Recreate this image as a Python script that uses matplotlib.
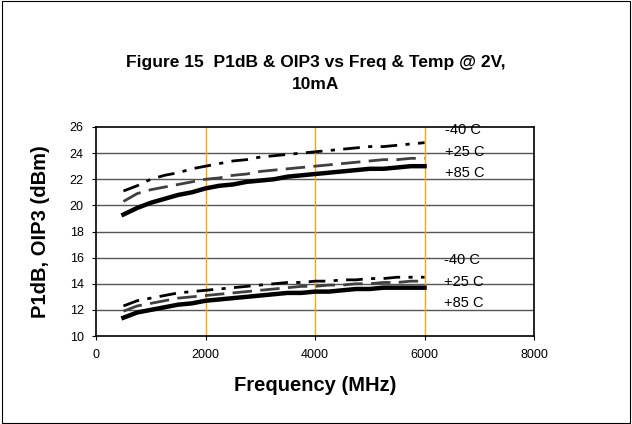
import matplotlib
matplotlib.use('Agg')
import matplotlib.pyplot as plt
from matplotlib.patches import Rectangle

plt.rcParams['font.family'] = ['Liberation Sans', 'DejaVu Sans']

freq = [500, 750, 1000, 1250, 1500, 1750, 2000, 2250, 2500, 2750, 3000, 3250,
        3500, 3750, 4000, 4250, 4500, 4750, 5000, 5250, 5500, 5750, 6000]

# OIP3 (upper group)
oip3_m40 = [21.1, 21.5, 22.0, 22.3, 22.5, 22.8, 23.0, 23.2, 23.4, 23.5, 23.7, 23.8,
            23.9, 24.0, 24.1, 24.2, 24.3, 24.4, 24.5, 24.5, 24.6, 24.7, 24.8]
oip3_p25 = [20.3, 20.9, 21.2, 21.4, 21.6, 21.8, 22.0, 22.1, 22.3, 22.4, 22.6, 22.7,
            22.8, 22.9, 23.0, 23.1, 23.2, 23.3, 23.4, 23.5, 23.5, 23.6, 23.6]
oip3_p85 = [19.3, 19.8, 20.2, 20.5, 20.8, 21.0, 21.3, 21.5, 21.6, 21.8, 21.9, 22.0,
            22.2, 22.3, 22.4, 22.5, 22.6, 22.7, 22.8, 22.8, 22.9, 23.0, 23.0]

# P1dB (lower group)
p1db_m40 = [12.3, 12.7, 12.9, 13.1, 13.3, 13.4, 13.5, 13.6, 13.7, 13.8, 13.9, 14.0,
            14.1, 14.1, 14.2, 14.2, 14.3, 14.3, 14.4, 14.4, 14.5, 14.5, 14.5]
p1db_p25 = [11.9, 12.3, 12.5, 12.7, 12.9, 13.0, 13.1, 13.2, 13.3, 13.4, 13.5, 13.6,
            13.7, 13.8, 13.8, 13.9, 13.9, 14.0, 14.0, 14.1, 14.1, 14.2, 14.2]
p1db_p85 = [11.4, 11.8, 12.0, 12.2, 12.4, 12.5, 12.7, 12.8, 12.9, 13.0, 13.1, 13.2,
            13.3, 13.3, 13.4, 13.4, 13.5, 13.6, 13.6, 13.7, 13.7, 13.7, 13.7]

temp_labels = ['-40 C', '+25 C', '+85 C']
upper_label_y = [25.8, 24.1, 22.5]
lower_label_y = [15.85, 14.1, 12.5]

fig = plt.figure(figsize=(6.32, 4.24), dpi=100)
ax = fig.add_axes([0.152, 0.2075, 0.693, 0.493])

# thin border around the whole chart
fig.patches.append(Rectangle((0.003, 0.003), 0.994, 0.994, transform=fig.transFigure,
                             fill=False, edgecolor='black', linewidth=0.8))

# -40 C: dash-dot black
ax.plot(freq, oip3_m40, color='black', linewidth=2, dashes=[6, 3, 1.5, 3])
ax.plot(freq, p1db_m40, color='black', linewidth=2, dashes=[6, 3, 1.5, 3])
# +25 C: long dash, dark grey
ax.plot(freq, oip3_p25, color='#404040', linewidth=2, dashes=[7, 3])
ax.plot(freq, p1db_p25, color='#404040', linewidth=2, dashes=[7, 3])
# +85 C: heavy solid
ax.plot(freq, oip3_p85, color='black', linewidth=3.2)
ax.plot(freq, p1db_p85, color='black', linewidth=3.2)

for lbl, y in zip(temp_labels, upper_label_y):
    ax.text(6380, y, lbl, fontsize=10.5, va='center', ha='left')
for lbl, y in zip(temp_labels, lower_label_y):
    ax.text(6350, y, lbl, fontsize=10.5, va='center', ha='left')

ax.set_xlim(0, 8000)
ax.set_ylim(10, 26)
ax.set_xticks([0, 2000, 4000, 6000, 8000])
ax.set_yticks(range(10, 27, 2))
ax.tick_params(labelsize=9, direction='out', length=3, width=0.8, pad=6)

for y in range(12, 26, 2):
    ax.axhline(y, color='#555555', linewidth=1, zorder=0)
for x in [2000, 4000, 6000]:
    ax.axvline(x, color='#ffa500', linewidth=1, zorder=0)

for s in ax.spines.values():
    s.set_linewidth(1.2)
    s.set_color('black')

ax.set_xlabel('Frequency (MHz)', fontsize=14.5, fontweight='bold', labelpad=11)
ax.set_ylabel('P1dB, OIP3 (dBm)', fontsize=14.5, fontweight='bold', labelpad=14)
fig.text(0.5, 0.827, 'Figure 15  P1dB & OIP3 vs Freq & Temp @ 2V,\n10mA', ha='center', va='center',
         fontsize=12.5, fontweight='bold', linespacing=1.6)

fig.savefig('out.png', dpi=100, facecolor='white')
